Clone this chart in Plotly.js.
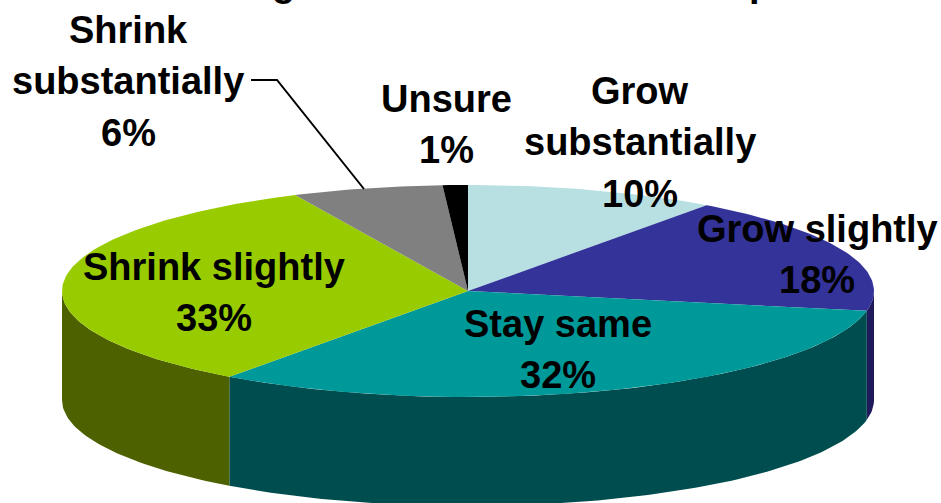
<!DOCTYPE html>
<html>
<head>
<meta charset="utf-8">
<script src="https://cdn.plot.ly/plotly-3.0.1.min.js"></script>
<style>html,body{margin:0;padding:0;background:#fff;overflow:hidden}#chart{width:941px;height:503px}</style>
</head>
<body>
<div id="chart"></div>
<script>
// Data (clockwise from 12 o'clock)
const categories = ["Grow substantially", "Grow slightly", "Stay same", "Shrink slightly", "Shrink substantially", "Unsure"];
const shares = [10, 18, 32, 33, 6, 1];
const labelLines = [["Grow", "substantially", "10%"], ["Grow slightly", "18%"], ["Stay same", "32%"], ["Shrink slightly", "33%"], ["Shrink", "substantially", "6%"], ["Unsure", "1%"]];
const topColors = ["#B8E0E3", "#333399", "#009999", "#99CC00", "#808080", "#000000"];
const sideColors = ["#5C7072", "#1F1A5C", "#004D4F", "#4D6100", "#404040", "#000000"];
const labelX = [640, 817, 558, 214, 128, 446];
const labelFirstY = [91, 229, 324, 267, 30, 99];
const lineStep = 51.3;
// Only the descenders of the reference's cropped title are visible
const titleScraps = ["g", "p"];
const titleScrapX = [283, 760];

// Tilted-pie geometry (drawing space equals the page in pixels)
const cx = 468, cy = 291, rx = 406, ry = 106, depth = 109;
const rim = (deg, drop) => [cx + rx * Math.sin(deg * Math.PI / 180), cy - ry * Math.cos(deg * Math.PI / 180) + drop];
const arc = (a, b, drop) => {
  const pts = [], n = Math.max(2, Math.ceil(Math.abs(b - a)) + 1);
  for (let i = 0; i < n; i++) pts.push(rim(a + (b - a) * i / (n - 1), drop));
  return pts;
};
const total = shares.reduce((s, v) => s + v, 0);
let acc = 0;
const spans = shares.map(v => { const a = acc / total * 360; acc += v; return [a, acc / total * 360]; });

const poly = (pts, color, name) => ({
  type: "scatter", mode: "lines", x: pts.map(p => p[0]), y: pts.map(p => p[1]),
  fill: "toself", fillcolor: color, line: {width: 0, color: color}, name: name,
  hoverinfo: "name", showlegend: false
});

const traces = [];
// Visible side wall: only the front half of the rim
spans.forEach((s, i) => {
  const a = Math.max(s[0], 90), b = Math.min(s[1], 270);
  if (b > a) traces.push(poly(arc(a, b, 0).concat(arc(b, a, depth)), sideColors[i], categories[i]));
});
// Top faces
spans.forEach((s, i) => {
  traces.push(poly([[cx, cy]].concat(arc(s[0], s[1], 0)), topColors[i], categories[i]));
});
// Leader line for the "Shrink substantially" label
traces.push({type: "scatter", mode: "lines", x: [251, 277, 364], y: [80, 80, 189],
  line: {color: "#000", width: 2}, hoverinfo: "skip", showlegend: false});

const font = {family: "Liberation Sans, Arial, sans-serif", size: 38, color: "#000", weight: "bold"};
const annotations = [];
labelLines.forEach((lines, i) => lines.forEach((t, j) => annotations.push({
  text: t, x: labelX[i], y: labelFirstY[i] + j * lineStep, xref: "x", yref: "y", showarrow: false,
  xanchor: "center", yanchor: "middle", align: "center", font: font
})));
titleScraps.forEach((t, i) => annotations.push({
  text: t, x: titleScrapX[i], y: 1, xref: "x", yref: "paper", yshift: 17, showarrow: false,
  xanchor: "center", yanchor: "middle", font: font
}));

Plotly.newPlot("chart", traces, {
  width: 941, height: 503, margin: {l: 0, r: 0, t: 0, b: 0},
  paper_bgcolor: "#fff", plot_bgcolor: "#fff", showlegend: false,
  xaxis: {range: [0, 941], visible: false, fixedrange: true},
  yaxis: {range: [503, 0], visible: false, fixedrange: true},
  annotations: annotations
}, {displayModeBar: false});
</script>
</body>
</html>
